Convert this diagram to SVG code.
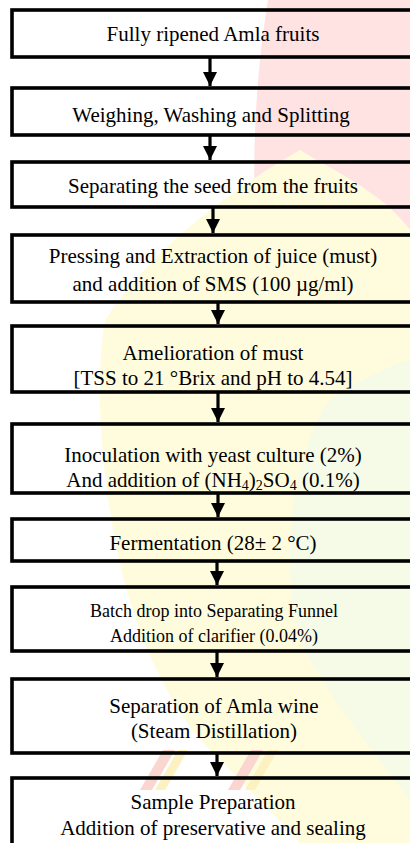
<svg xmlns="http://www.w3.org/2000/svg" width="410" height="843" viewBox="0 0 410 843">
<style>
.bx{fill:none;stroke:#000;stroke-width:3.6}
.t{font-family:"Liberation Serif","Times New Roman",serif;font-size:21px;fill:#000;text-anchor:middle}
.s{font-size:18px}
.sub{font-size:14px}
.sh{stroke:#000;stroke-width:3.2;fill:none}
</style>
<defs>
<marker id="arr" viewBox="0 0 14 14" refX="14" refY="7" markerWidth="14" markerHeight="14" markerUnits="userSpaceOnUse" orient="auto">
<path d="M0,0 L14,7 L0,14 Z" fill="#000"/>
</marker>
</defs>
<rect width="410" height="843" fill="#fff"/>
<g id="watermark" opacity="0.65">
<path d="M268,0 L410,0 L410,230 C380,190 330,170 300,150 C285,170 270,190 255,215 C252,140 258,60 268,0 Z" fill="#ffd3d3"/>
<path d="M300,150 C330,170 380,190 410,230 L410,843 L300,843 C270,810 230,770 200,740 C160,690 130,620 115,540 C100,460 95,380 105,320 C150,250 230,190 300,150 Z" fill="#fffbcc"/>
<path d="M410,360 L410,800 C380,760 330,700 300,640 C280,560 290,460 330,400 C360,380 390,365 410,360 Z" fill="#f2f9dc"/>
<path d="M140,790 L152,790 L175,750 L163,750 Z" fill="#f9c0b8"/>
<path d="M155,790 L165,790 L188,750 L178,750 Z" fill="#fbeaa0"/>
<path d="M228,790 L240,790 L263,750 L251,750 Z" fill="#f9c0b8"/>
<path d="M245,790 L255,790 L278,750 L268,750 Z" fill="#fbeaa0"/>
</g>
<g id="connectors">
<line class="sh" x1="210" y1="57" x2="210" y2="86" marker-end="url(#arr)"/>
<line class="sh" x1="210" y1="135" x2="210" y2="160" marker-end="url(#arr)"/>
<line class="sh" x1="213" y1="207" x2="213" y2="233" marker-end="url(#arr)"/>
<line class="sh" x1="218" y1="302" x2="218" y2="324" marker-end="url(#arr)"/>
<line class="sh" x1="218" y1="392" x2="218" y2="422" marker-end="url(#arr)"/>
<line class="sh" x1="218" y1="493" x2="218" y2="517" marker-end="url(#arr)"/>
<line class="sh" x1="217" y1="561" x2="217" y2="585" marker-end="url(#arr)"/>
<line class="sh" x1="217" y1="651" x2="217" y2="677" marker-end="url(#arr)"/>
<line class="sh" x1="217" y1="753" x2="217" y2="776" marker-end="url(#arr)"/>
</g>
<g id="n1"><rect class="bx" x="12" y="10" width="402" height="47"/><text class="t" x="213" y="41">Fully ripened Amla fruits</text></g>
<g id="n2"><rect class="bx" x="12" y="88" width="402" height="47"/><text class="t" x="211" y="122">Weighing, Washing and Splitting</text></g>
<g id="n3"><rect class="bx" x="12" y="162" width="402" height="45"/><text class="t" x="213" y="193">Separating the seed from the fruits</text></g>
<g id="n4"><rect class="bx" x="12" y="235" width="402" height="67"/><text class="t" x="213" y="263">Pressing and Extraction of juice (must)</text><text class="t" x="213" y="291">and addition of SMS (100 µg/ml)</text></g>
<g id="n5"><rect class="bx" x="12" y="326" width="402" height="66"/><text class="t" x="213" y="360">Amelioration of must</text><text class="t" x="213" y="385">[TSS to 21 °Brix and pH to 4.54]</text></g>
<g id="n6"><rect class="bx" x="12" y="424" width="402" height="69"/><text class="t" x="213" y="462">Inoculation with yeast culture (2%)</text><text class="t" x="213" y="487">And addition of (NH<tspan class="sub" dy="3">4</tspan><tspan dy="-3">)</tspan><tspan class="sub" dy="3">2</tspan><tspan dy="-3">SO</tspan><tspan class="sub" dy="3">4</tspan><tspan dy="-3"> (0.1%)</tspan></text></g>
<g id="n7"><rect class="bx" x="12" y="519" width="402" height="42"/><text class="t" x="213" y="550">Fermentation (28± 2 °C)</text></g>
<g id="n8"><rect class="bx" x="12" y="587" width="402" height="64"/><text class="t s" x="214" y="617">Batch drop into Separating Funnel</text><text class="t s" x="214" y="642">Addition of clarifier (0.04%)</text></g>
<g id="n9"><rect class="bx" x="12" y="679" width="402" height="74"/><text class="t" x="214" y="713">Separation of Amla wine</text><text class="t" x="214" y="738">(Steam Distillation)</text></g>
<g id="n10"><rect class="bx" x="12" y="778" width="402" height="100"/><text class="t" x="213" y="809">Sample Preparation</text><text class="t" x="213" y="835">Addition of preservative and sealing</text></g>
</svg>
